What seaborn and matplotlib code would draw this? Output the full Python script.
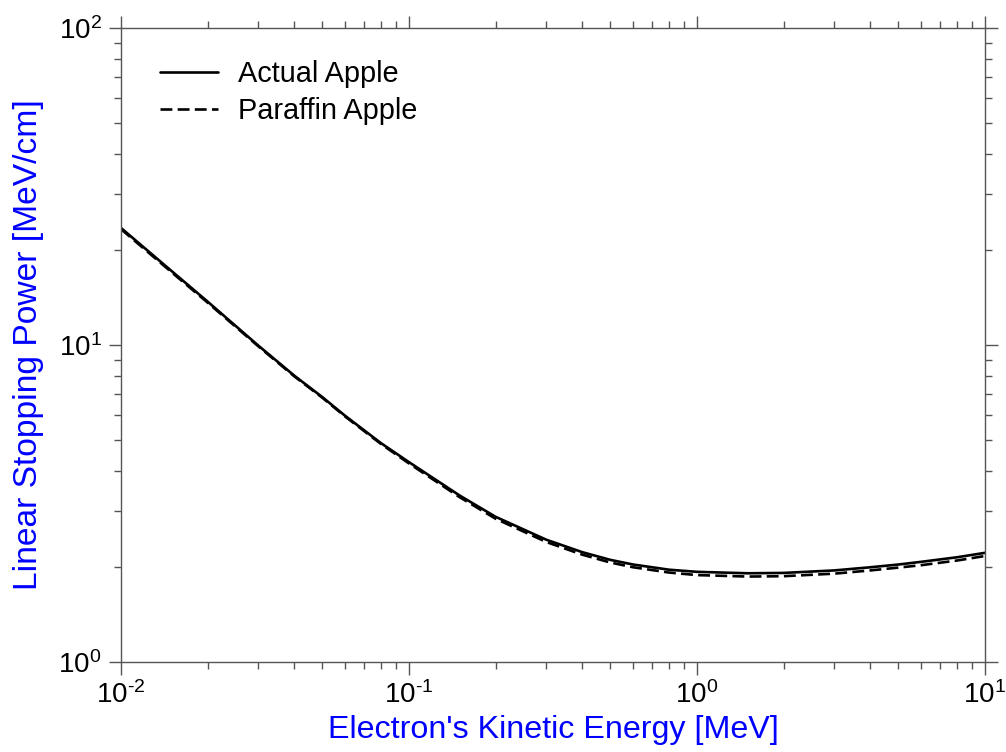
import numpy as np
import pandas as pd
import matplotlib
matplotlib.use("Agg")
import matplotlib.pyplot as plt
from matplotlib import font_manager
from matplotlib.ticker import LogLocator, FuncFormatter, NullFormatter
import seaborn as sns

# Electron kinetic energy grid [MeV]
energy = [0.01, 0.015, 0.02, 0.03, 0.04, 0.05, 0.06, 0.08, 0.1, 0.15, 0.2,
          0.3, 0.4, 0.5, 0.6, 0.8, 1.0, 1.5, 2.0, 3.0, 4.0, 5.0, 6.0, 8.0, 10.0]

# Linear stopping power [MeV/cm]
actual_apple = [23.4, 17.1, 13.7, 9.95, 8.0, 6.85, 5.98, 4.90, 4.27, 3.35, 2.87,
                2.43, 2.22, 2.10, 2.03, 1.955, 1.925, 1.905, 1.91, 1.945, 1.99,
                2.03, 2.07, 2.14, 2.21]
paraffin_apple = [23.2, 16.95, 13.6, 9.9, 7.96, 6.82, 5.95, 4.87, 4.23, 3.31, 2.83,
                  2.39, 2.18, 2.06, 1.99, 1.915, 1.88, 1.86, 1.865, 1.90, 1.945,
                  1.985, 2.02, 2.09, 2.16]

series_names = ["Actual Apple", "Paraffin Apple"]

df = pd.DataFrame({
    "energy": energy * 2,
    "power": actual_apple + paraffin_apple,
    "material": [series_names[0]] * len(energy) + [series_names[1]] * len(energy),
})

sns.set_style("ticks")
plt.rcParams["font.family"] = ["Liberation Sans", "DejaVu Sans"]
plt.rcParams["text.color"] = "black"

# Narrow face for the decade labels when available
installed = {f.name for f in font_manager.fontManager.ttflist}
tick_face = "Liberation Sans Narrow" if "Liberation Sans Narrow" in installed else "Liberation Sans"
tick_size = 21 if tick_face == "Liberation Sans Narrow" else 20
plt.rcParams["mathtext.fontset"] = "custom"
plt.rcParams["mathtext.rm"] = tick_face
plt.rcParams["mathtext.it"] = tick_face + ":italic"
plt.rcParams["mathtext.bf"] = tick_face + ":bold"

fig = plt.figure(figsize=(10.06, 7.52), dpi=100)
ax = fig.add_axes([121 / 1006, 1 - 662 / 752, (985 - 121) / 1006, (662 - 28) / 752])

sns.lineplot(data=df, x="energy", y="power", hue="material", style="material",
             palette=["black", "black"],
             dashes={series_names[0]: "", series_names[1]: (4.5, 2.0)},
             linewidth=1.9, ax=ax, legend=False, sort=True)

ax.set_xscale("log")
ax.set_yscale("log")
ax.set_xlim(1e-2, 1e1)
ax.set_ylim(1e0, 1e2)


def decade_label(v, _):
    exp = int(round(np.log10(v)))
    sup = r"\text{-}%d" % abs(exp) if exp < 0 else "%d" % exp
    return r"$\mathregular{10^{%s}}$" % sup


decade_fmt = FuncFormatter(decade_label)
ax.xaxis.set_major_locator(LogLocator(base=10, numticks=10))
ax.yaxis.set_major_locator(LogLocator(base=10, numticks=10))
ax.xaxis.set_minor_locator(LogLocator(base=10, subs=np.arange(2, 10), numticks=100))
ax.yaxis.set_minor_locator(LogLocator(base=10, subs=np.arange(2, 10), numticks=100))
ax.xaxis.set_major_formatter(decade_fmt)
ax.yaxis.set_major_formatter(decade_fmt)
ax.xaxis.set_minor_formatter(NullFormatter())
ax.yaxis.set_minor_formatter(NullFormatter())

frame_color = "#555555"
for side in ["left", "right", "top", "bottom"]:
    ax.spines[side].set_visible(True)
    ax.spines[side].set_color(frame_color)
    ax.spines[side].set_linewidth(1.0)

ax.tick_params(which="both", direction="out", top=True, right=True,
               color=frame_color, width=1.0, labelsize=tick_size, labelcolor="black")
ax.tick_params(which="major", length=9, pad=5)
ax.tick_params(which="minor", length=5)

ax.set_xlabel("Electron's Kinetic Energy [MeV]", fontsize=23.2, color="#0000FF", labelpad=4)
ax.set_ylabel("Linear Stopping Power [MeV/cm]", fontsize=24.2, color="#0000FF", labelpad=10)

handles = [
    plt.Line2D([], [], color="black", linewidth=1.9),
    plt.Line2D([], [], color="black", linewidth=1.9, dashes=(4.5, 2.0)),
]
leg = ax.legend(handles, series_names, loc="upper left", bbox_to_anchor=(0.015, 0.99),
                frameon=False, fontsize=20.8, handlelength=2.0, handletextpad=0.7,
                labelspacing=0.3)
for t in leg.get_texts():
    t.set_color("black")

fig.savefig("out.png", dpi=100)
